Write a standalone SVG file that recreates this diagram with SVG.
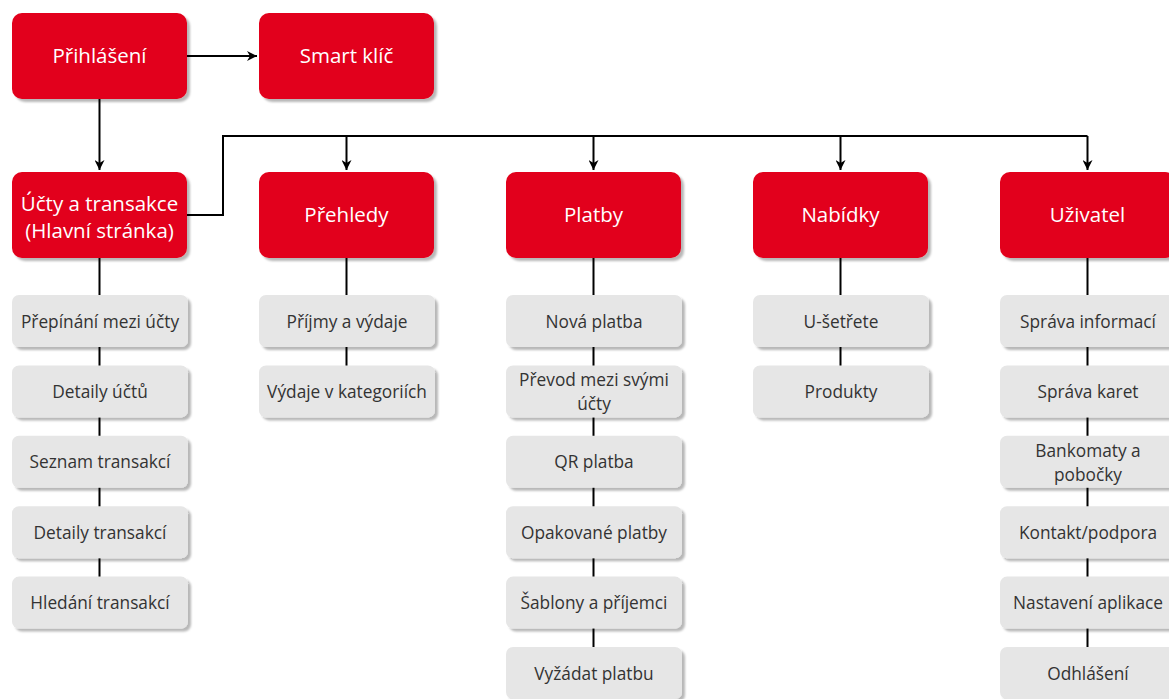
<svg xmlns="http://www.w3.org/2000/svg" width="1169" height="699" viewBox="0 0 1169 699">
  <defs>
    <marker id="arrow" viewBox="0 0 10 10" refX="10" refY="5" markerWidth="10" markerHeight="10" markerUnits="userSpaceOnUse" orient="auto">
      <path d="M0,0 L10,5 L0,10 L3,5 Z" fill="#000"/>
    </marker>
    <filter id="shadow" x="-10%" y="-10%" width="130%" height="140%">
      <feGaussianBlur in="SourceAlpha" stdDeviation="0.8"/>
      <feOffset dx="3" dy="3" result="b"/>
      <feFlood flood-color="#000" flood-opacity="0.28"/>
      <feComposite in2="b" operator="in"/>
      <feMerge><feMergeNode/><feMergeNode in="SourceGraphic"/></feMerge>
    </filter>
  </defs>
  <style>
    .main rect { fill: #e2001a; filter: url(#shadow); }
    .main text { fill: #ffffff; font-family: "Open Sans", "Noto Sans", sans-serif; font-size: 20.5px; text-anchor: middle; dominant-baseline: central; }
    .sub rect { fill: #e6e6e6; filter: url(#shadow); }
    .sub text { fill: #333333; font-family: "Open Sans", "Noto Sans", sans-serif; font-size: 17.3px; text-anchor: middle; dominant-baseline: central; }
    .conn path { fill: none; stroke: #000; stroke-width: 2; }
  </style>
  <rect width="1169" height="699" fill="#ffffff"/>

  <!-- connectors -->
  <g id="connectors" class="conn">
    <path d="M187,56 H257" marker-end="url(#arrow)"/>
    <path d="M99.5,99 V170" marker-end="url(#arrow)"/>
    <path d="M187,215 H223 V136 H1087.5"/>
    <path d="M346.5,136 V170" marker-end="url(#arrow)"/>
    <path d="M593.5,136 V170" marker-end="url(#arrow)"/>
    <path d="M840.5,136 V170" marker-end="url(#arrow)"/>
    <path d="M1087.5,136 V170" marker-end="url(#arrow)"/>
    <!-- column spines -->
    <path d="M99.5,258 V577"/>
    <path d="M346.5,258 V366"/>
    <path d="M593.5,258 V647"/>
    <path d="M840.5,258 V366"/>
    <path d="M1087.5,258 V647"/>
  </g>

  <!-- top level -->
  <g id="prihlaseni" class="main"><rect x="12" y="13" width="175" height="86" rx="10"/><text x="99.5" y="55">Přihlášení</text></g>
  <g id="smart-klic" class="main"><rect x="259" y="13" width="175" height="86" rx="10"/><text x="346.5" y="55">Smart klíč</text></g>

  <g id="ucty" class="main"><rect x="12" y="172" width="175" height="86" rx="10"/><text x="99.5" y="216"><tspan x="99.5" dy="-13.5">Účty a transakce</tspan><tspan x="99.5" dy="27">(Hlavní stránka)</tspan></text></g>
  <g id="prehledy" class="main"><rect x="259" y="172" width="175" height="86" rx="10"/><text x="346.5" y="214">Přehledy</text></g>
  <g id="platby" class="main"><rect x="506" y="172" width="175" height="86" rx="10"/><text x="593.5" y="214">Platby</text></g>
  <g id="nabidky" class="main"><rect x="753" y="172" width="175" height="86" rx="10"/><text x="840.5" y="214">Nabídky</text></g>
  <g id="uzivatel" class="main"><rect x="1000" y="172" width="175" height="86" rx="10"/><text x="1087.5" y="214">Uživatel</text></g>

  <!-- Účty a transakce -->
  <g id="ucty-1" class="sub"><rect x="12" y="295" width="176" height="52" rx="7"/><text x="100" y="321">Přepínání mezi účty</text></g>
  <g id="ucty-2" class="sub"><rect x="12" y="365.4" width="176" height="52" rx="7"/><text x="100" y="391.4">Detaily účtů</text></g>
  <g id="ucty-3" class="sub"><rect x="12" y="435.8" width="176" height="52" rx="7"/><text x="100" y="461.8">Seznam transakcí</text></g>
  <g id="ucty-4" class="sub"><rect x="12" y="506.2" width="176" height="52" rx="7"/><text x="100" y="532.2">Detaily transakcí</text></g>
  <g id="ucty-5" class="sub"><rect x="12" y="576.6" width="176" height="52" rx="7"/><text x="100" y="602.6">Hledání transakcí</text></g>

  <!-- Přehledy -->
  <g id="prehledy-1" class="sub"><rect x="259" y="295" width="176" height="52" rx="7"/><text x="347" y="321">Příjmy a výdaje</text></g>
  <g id="prehledy-2" class="sub"><rect x="259" y="365.4" width="176" height="52" rx="7"/><text x="347" y="391.4">Výdaje v kategoriích</text></g>

  <!-- Platby -->
  <g id="platby-1" class="sub"><rect x="506" y="295" width="176" height="52" rx="7"/><text x="594" y="321">Nová platba</text></g>
  <g id="platby-2" class="sub"><rect x="506" y="365.4" width="176" height="52" rx="7"/><text x="594" y="391.4"><tspan x="594" dy="-12">Převod mezi svými</tspan><tspan x="594" dy="24">účty</tspan></text></g>
  <g id="platby-3" class="sub"><rect x="506" y="435.8" width="176" height="52" rx="7"/><text x="594" y="461.8">QR platba</text></g>
  <g id="platby-4" class="sub"><rect x="506" y="506.2" width="176" height="52" rx="7"/><text x="594" y="532.2">Opakované platby</text></g>
  <g id="platby-5" class="sub"><rect x="506" y="576.6" width="176" height="52" rx="7"/><text x="594" y="602.6">Šablony a příjemci</text></g>
  <g id="platby-6" class="sub"><rect x="506" y="647" width="176" height="52" rx="7"/><text x="594" y="673">Vyžádat platbu</text></g>

  <!-- Nabídky -->
  <g id="nabidky-1" class="sub"><rect x="753" y="295" width="176" height="52" rx="7"/><text x="841" y="321">U-šetřete</text></g>
  <g id="nabidky-2" class="sub"><rect x="753" y="365.4" width="176" height="52" rx="7"/><text x="841" y="391.4">Produkty</text></g>

  <!-- Uživatel -->
  <g id="uzivatel-1" class="sub"><rect x="1000" y="295" width="176" height="52" rx="7"/><text x="1088" y="321">Správa informací</text></g>
  <g id="uzivatel-2" class="sub"><rect x="1000" y="365.4" width="176" height="52" rx="7"/><text x="1088" y="391.4">Správa karet</text></g>
  <g id="uzivatel-3" class="sub"><rect x="1000" y="435.8" width="176" height="52" rx="7"/><text x="1088" y="461.8"><tspan x="1088" dy="-12">Bankomaty a</tspan><tspan x="1088" dy="24">pobočky</tspan></text></g>
  <g id="uzivatel-4" class="sub"><rect x="1000" y="506.2" width="176" height="52" rx="7"/><text x="1088" y="532.2">Kontakt/podpora</text></g>
  <g id="uzivatel-5" class="sub"><rect x="1000" y="576.6" width="176" height="52" rx="7"/><text x="1088" y="602.6">Nastavení aplikace</text></g>
  <g id="uzivatel-6" class="sub"><rect x="1000" y="647" width="176" height="52" rx="7"/><text x="1088" y="673">Odhlášení</text></g>
</svg>
